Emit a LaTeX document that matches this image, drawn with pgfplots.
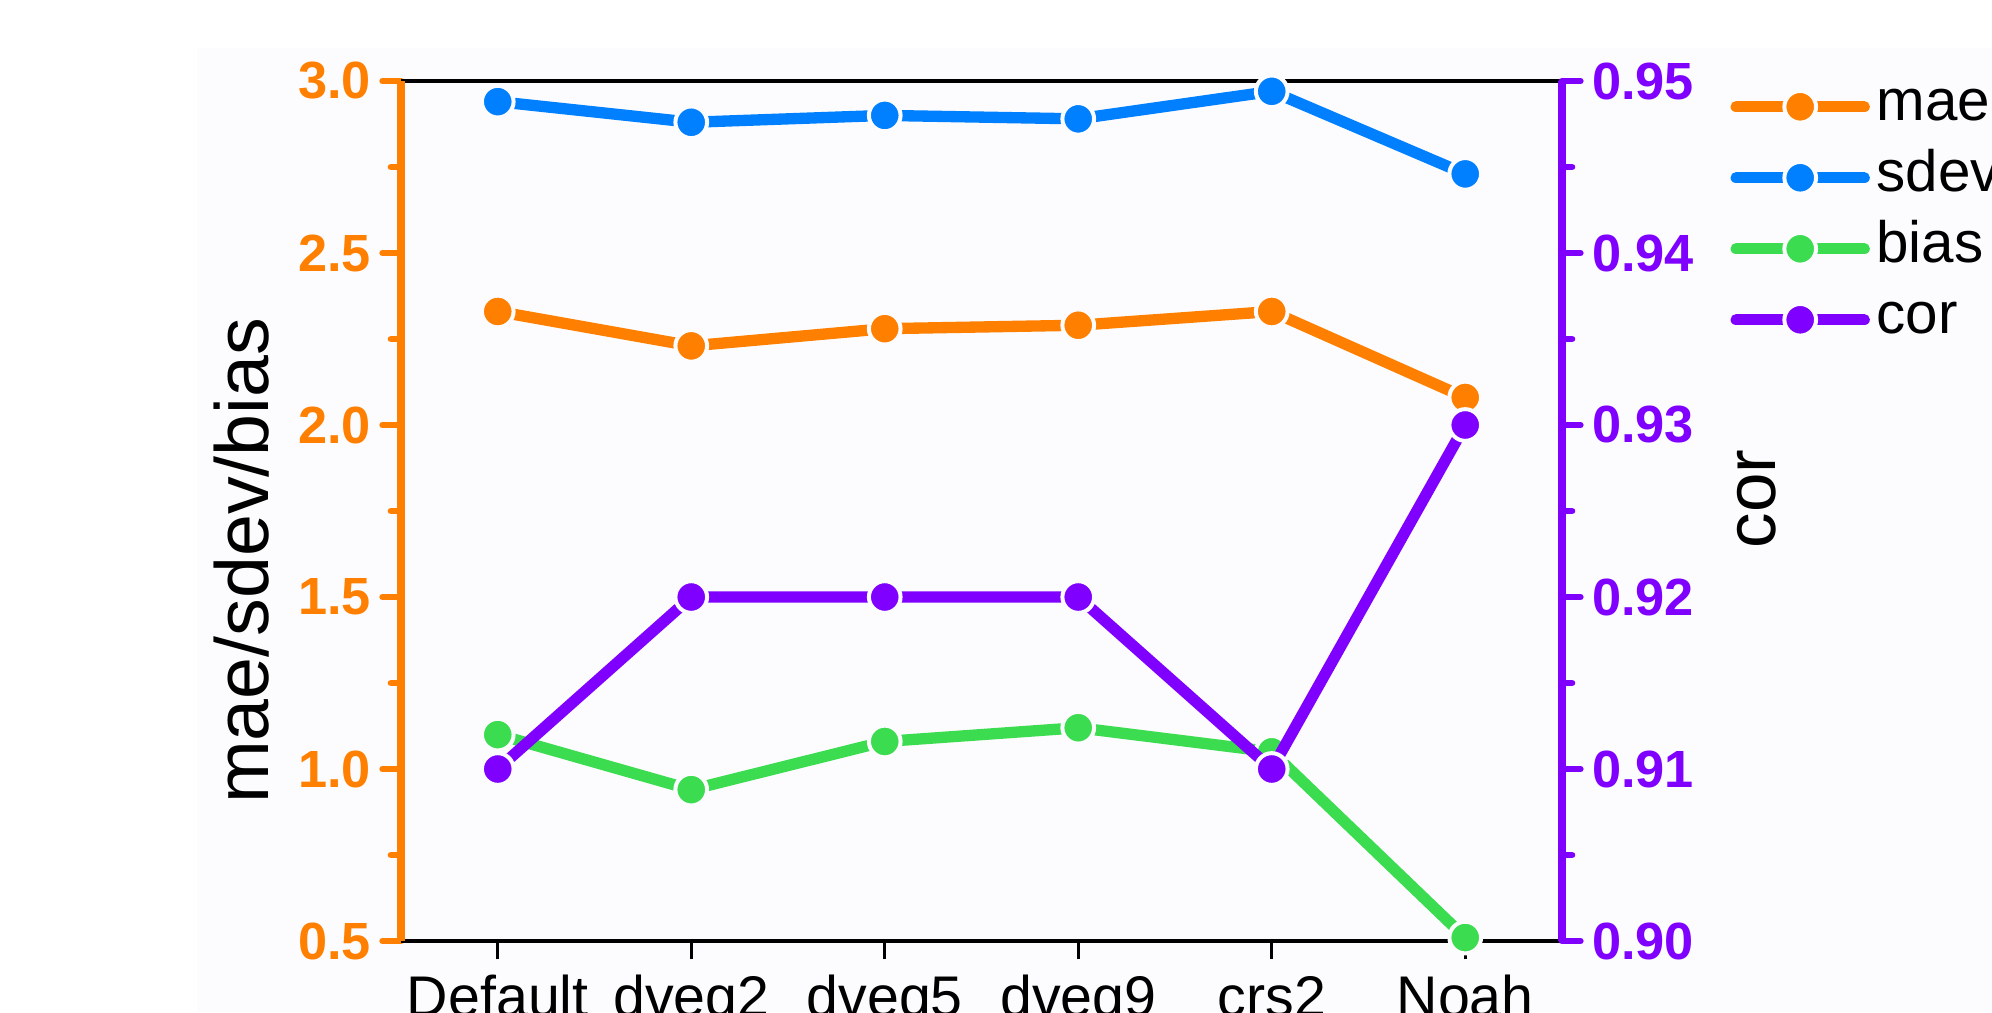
\documentclass[border=0pt]{standalone}
\usepackage{fontspec}
\setmainfont{Liberation Sans}
\usepackage{pgfplots}
\pgfplotsset{compat=1.18}
\definecolor{cmae}{RGB}{255,128,0}
\definecolor{csdev}{RGB}{0,128,255}
\definecolor{cbias}{RGB}{60,220,80}
\definecolor{ccor}{RGB}{128,0,255}
\definecolor{bg}{RGB}{252,252,254}
\pgfplotsset{
  mystyle/.style={color=#1, mark=*, line width=3.4pt, line cap=round, line join=round,
    mark size=4.75pt, mark options={fill=#1, draw=bg, line width=1.2pt}},
  common/.style={
    at={(0,0)}, anchor=south west,
    scale only axis, width=348.3pt, height=258pt,
    xmin=-0.5, xmax=5.5,
    tick align=outside,
    major tick length=5.5pt, minor tick length=3pt,
    minor y tick num=1,
    /pgf/number format/assume math mode=true,
    /pgf/number format/fixed, /pgf/number format/fixed zerofill,
  },
}
\begin{document}
\begin{tikzpicture}
\useasboundingbox (-120.3pt,-21.3pt) rectangle (477.3pt,282.3pt);
\fill[bg] (-61.2pt,-21.3pt) rectangle (477.3pt,267.9pt);
\begin{axis}[common,
  ymin=0.5, ymax=3.0,
  axis y line*=left, axis x line*=box,
  xtick={0,1,2,3,4,5},
  xticklabels={Default,dveg2,dveg5,dveg9,crs2,Noah},
  xtick pos=left,
  ytick={0.5,1.0,1.5,2.0,2.5,3.0},
  /pgf/number format/precision=1,
  x axis line style={black, line width=1pt, -},
  y axis line style={cmae, line width=2.2pt, -},
  xtick style={black, line width=1pt},
  ytick style={cmae, line width=2pt, line cap=round},
  minor y tick style={cmae, line width=2pt, line cap=round},
  yticklabel style={font=\fontsize{15.7}{18}\selectfont\bfseries, text=cmae},
  xticklabel style={font=\fontsize{17.2}{20}\selectfont, anchor=base, yshift=-17pt},
  ylabel={mae/sdev/bias},
  ylabel style={font=\fontsize{22.6}{26}\selectfont, at={(axis description cs:0,0.442)}, anchor=base, yshift=39.6pt},
  legend image code/.code={\draw[mark repeat=2,mark phase=2,#1] plot coordinates {(0pt,0pt) (19.2pt,0pt) (38.4pt,0pt)};},
  legend style={at={(rel axis cs:1.136,1.0086)}, anchor=north west, draw=none, fill=none,
    font=\fontsize{17.5}{20}\selectfont, row sep=5.8pt,
    nodes={inner xsep=2pt, inner ysep=0pt, text height=12pt, text depth=3.5pt}},
  legend cell align=left,
]
\addplot[mystyle=cmae] coordinates {(0,2.33) (1,2.23) (2,2.28) (3,2.29) (4,2.33) (5,2.08)};
\addlegendentry{mae}
\addplot[mystyle=csdev] coordinates {(0,2.94) (1,2.88) (2,2.90) (3,2.89) (4,2.97) (5,2.73)};
\addlegendentry{sdev}
\addplot[mystyle=cbias] coordinates {(0,1.10) (1,0.94) (2,1.08) (3,1.12) (4,1.05) (5,0.51)};
\addlegendentry{bias}
\addlegendimage{mystyle=ccor}
\addlegendentry{cor}
\end{axis}
\begin{axis}[common,
  ymin=0.90, ymax=0.95,
  axis y line*=right, axis x line=none,
  ytick={0.90,0.91,0.92,0.93,0.94,0.95},
  /pgf/number format/precision=2,
  y axis line style={ccor, line width=2.2pt, -},
  ytick style={ccor, line width=2pt, line cap=round},
  minor y tick style={ccor, line width=2pt, line cap=round},
  yticklabel style={font=\fontsize{15.7}{18}\selectfont\bfseries, text=ccor},
  ylabel={cor},
  ylabel style={font=\fontsize{21.3}{25}\selectfont, at={(axis description cs:1,0.514)}, anchor=base, yshift=-64.2pt},
]
\addplot[mystyle=ccor] coordinates {(0,0.91) (1,0.92) (2,0.92) (3,0.92) (4,0.91) (5,0.93)};
\end{axis}
\end{tikzpicture}
\end{document}
